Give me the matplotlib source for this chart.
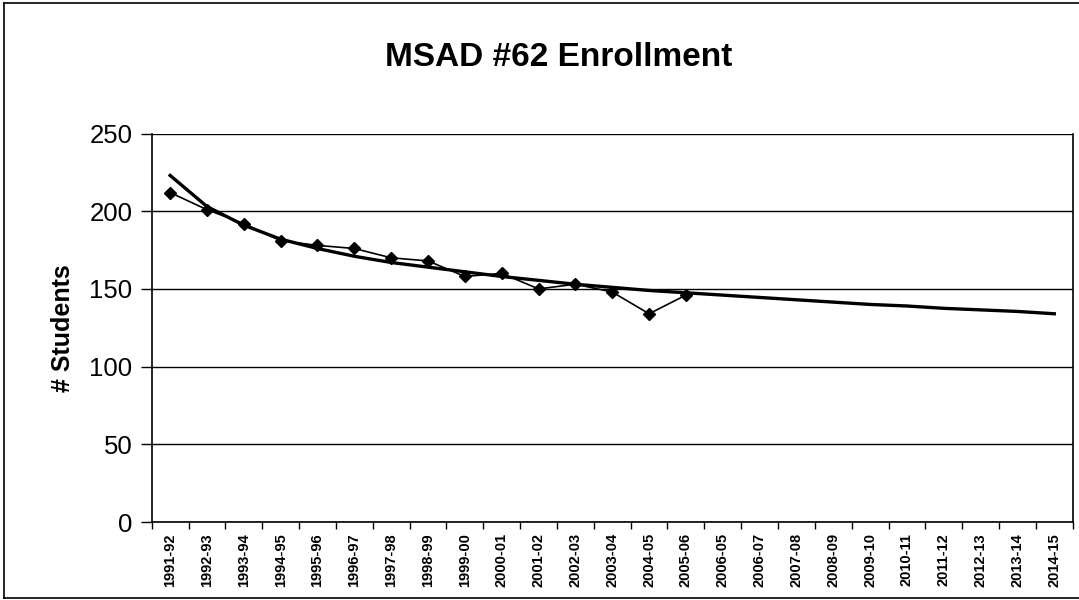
import matplotlib
matplotlib.use('Agg')
import matplotlib.pyplot as plt
from matplotlib.lines import Line2D

plt.rcParams['font.family'] = ['Liberation Sans', 'DejaVu Sans']

# school years on the category axis (labels kept as printed in the source)
years = ['1991-92', '1992-93', '1993-94', '1994-95', '1995-96', '1996-97',
         '1997-98', '1998-99', '1999-00', '2000-01', '2001-02', '2002-03',
         '2003-04', '2004-05', '2005-06', '2006-05', '2006-07', '2007-08',
         '2008-09', '2009-10', '2010-11', '2011-12', '2012-13', '2013-14',
         '2014-15']

# actual enrollment (first 15 years)
enrollment = [212, 201, 192, 181, 178, 176, 170, 168, 158, 160, 150, 153,
              148, 134, 146]

# trend line, one value per year
trend = [223, 203, 191, 182, 176, 171, 167, 164, 161, 158, 155.5, 153,
         151, 149, 147.5, 146, 144.5, 143, 141.5, 140, 139, 137.5, 136.5,
         135.5, 134]

fig = plt.figure(figsize=(10.79, 6.0), dpi=100)
ax = fig.add_axes([0.1406, 0.13, 0.8536, 0.6475])

x_data = list(range(len(enrollment)))
x_trend = list(range(len(trend)))

ax.plot(x_trend, trend, color='black', linewidth=2.4, zorder=3)
ax.plot(x_data, enrollment, color='black', linewidth=1.2, marker='D',
        markersize=6, zorder=4)

ax.set_xlim(-0.5, len(years) - 0.5)
ax.set_ylim(0, 250)
ax.set_yticks([0, 50, 100, 150, 200, 250])
ax.yaxis.grid(True, color='black', linewidth=1.0)
ax.set_axisbelow(True)

ax.set_xticks(range(len(years)))
ax.set_xticklabels(years, rotation=90, fontsize=10.5, fontweight='bold')
ax.set_xticks([i - 0.5 for i in range(len(years) + 1)], minor=True)
ax.tick_params(axis='x', which='major', length=0, pad=8)
ax.tick_params(axis='x', which='minor', length=5, width=1, color='black')
ax.tick_params(axis='y', labelsize=18.5, length=8, width=1, pad=6)

ax.spines['top'].set_visible(False)
for side in ['left', 'bottom', 'right']:
    ax.spines[side].set_color('black')
    ax.spines[side].set_linewidth(1.2)

ax.set_ylabel('# Students', fontsize=18, fontweight='bold', labelpad=10)
fig.text(0.518, 0.905, 'MSAD #62 Enrollment', ha='center', va='center',
         fontsize=24, fontweight='bold')

# outer chart border (left, top, bottom visible in the scan)
for xs, ys in [([0.004, 0.004], [0.003, 0.995]),
               ([0.004, 1.0], [0.995, 0.995]),
               ([0.004, 1.0], [0.003, 0.003])]:
    fig.add_artist(Line2D(xs, ys, color='black', linewidth=1.2,
                          transform=fig.transFigure))

fig.savefig('out.png', dpi=100, facecolor='white')
